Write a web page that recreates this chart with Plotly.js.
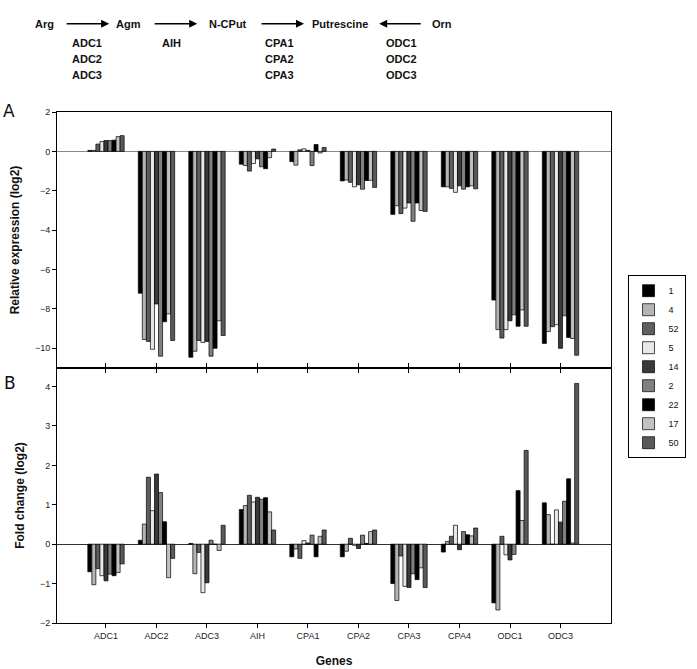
<!DOCTYPE html>
<html><head><meta charset="utf-8">
<script src="https://cdn.plot.ly/plotly-3.0.1.min.js"></script>
<style>html,body{margin:0;padding:0;background:#fff}#chart{width:697px;height:669px}</style>
</head><body><div id="chart"></div>
<script>
// Categories
const genes = ['ADC1','ADC2','ADC3','AIH','CPA1','CPA2','CPA3','CPA4','ODC1','ODC3'];
// Series (lines) in legend order
const lines = ['1','4','52','5','14','2','22','17','50'];
const colors = ['#000000','#b4b4b4','#5e5e5e','#e8e8e8','#3a3a3a','#808080','#000000','#c2c2c2','#5a5a5a'];

// Panel A: Relative expression (log2), one array per line, in gene order
const rel_1  = [0.05, -7.2, -10.45, -0.65, -0.52, -1.5, -3.2, -1.8, -7.55, -9.75];
const rel_4  = [0.05, -9.55, -10.15, -0.72, -0.7, -1.45, -2.76, -1.8, -9.05, -9.15];
const rel_52 = [0.37, -9.65, -9.6, -1.0, 0.08, -1.57, -3.16, -1.88, -9.48, -8.9];
const rel_5  = [0.5, -10.05, -9.7, -0.62, 0.13, -1.8, -2.88, -2.08, -9.05, -8.8];
const rel_14 = [0.55, -7.75, -9.65, -0.38, 0.05, -1.7, -2.62, -1.75, -8.6, -10.0];
const rel_2  = [0.55, -10.4, -10.4, -0.78, -0.72, -1.92, -3.55, -1.92, -8.3, -8.35];
const rel_22 = [0.57, -8.65, -10.0, -0.88, 0.35, -1.48, -2.62, -1.8, -8.88, -9.45];
const rel_17 = [0.75, -8.25, -8.6, -0.32, -0.08, -1.47, -3.0, -1.75, -8.05, -9.5];
const rel_50 = [0.8, -9.6, -9.35, 0.12, 0.2, -1.83, -3.05, -1.9, -8.88, -10.35];

// Panel B: Fold change (log2)
const fc_1  = [-0.7, 0.1, 0.02, 0.88, -0.32, -0.32, -1.0, -0.2, -1.49, 1.05];
const fc_4  = [-1.03, 0.51, -0.75, 0.98, -0.12, -0.18, -1.43, 0.07, -1.67, 0.75];
const fc_52 = [-0.62, 1.7, -0.21, 1.24, -0.36, 0.15, -0.3, 0.2, 0.2, 0.0];
const fc_5  = [-0.8, 0.85, -1.23, 1.07, 0.09, -0.03, -1.07, 0.48, -0.27, 0.87];
const fc_14 = [-0.93, 1.78, -0.98, 1.19, 0.03, -0.11, -1.1, -0.14, -0.4, 0.56];
const fc_2  = [-0.76, 1.31, 0.1, 1.14, 0.23, 0.23, -0.75, 0.32, -0.26, 1.09];
const fc_22 = [-0.8, 0.57, 0.0, 1.18, -0.32, 0.02, -0.9, 0.24, 1.36, 1.66];
const fc_17 = [-0.72, -0.85, -0.16, 0.82, 0.2, 0.32, -0.6, 0.21, 0.6, 0.03];
const fc_50 = [-0.5, -0.36, 0.48, 0.36, 0.36, 0.36, -1.1, 0.41, 2.38, 4.08];

const relSeries = [rel_1, rel_4, rel_52, rel_5, rel_14, rel_2, rel_22, rel_17, rel_50];
const fcSeries  = [fc_1, fc_4, fc_52, fc_5, fc_14, fc_2, fc_22, fc_17, fc_50];

// Pathway text
const pathNodes = ['Arg','Agm','N-CPut','Putrescine','Orn'];
const pathEnzymes = [['ADC1','ADC2','ADC3'],['AIH'],['CPA1','CPA2','CPA3'],['ODC1','ODC2','ODC3']];

const FONT = 'Liberation Sans, Arial, sans-serif';
const traces = [];
lines.forEach((ln, i) => {
  traces.push({
    type: 'bar', name: ln, x: genes, y: relSeries[i], xaxis: 'x2', yaxis: 'y2',
    legendgroup: ln, showlegend: true,
    marker: {color: colors[i], line: {color: '#000', width: 0.7}}, hoverinfo: 'x+y+name'
  });
  traces.push({
    type: 'bar', name: ln, x: genes, y: fcSeries[i], xaxis: 'x', yaxis: 'y',
    legendgroup: ln, showlegend: false,
    marker: {color: colors[i], line: {color: '#000', width: 0.7}}, hoverinfo: 'x+y+name'
  });
});

// pixel -> paper helpers (plot area 57.3..617.3 x, 112.3..623.3 y)
const L = 57.3, R = 617.3, T = 112.3, B = 623.3;
const px = v => (v - L) / (R - L);
const py = v => (B - v) / (B - T);

const ann = [];
const tfont = {family: FONT, size: 11, color: '#111', weight: 'bold'};
const nodeX = [44.5, 130, 230.5, 343, 446];
pathNodes.forEach((t, i) => ann.push({text: '<b>' + t + '</b>', x: px(nodeX[i]), y: py(24), xref: 'paper', yref: 'paper', showarrow: false, xanchor: 'center', yanchor: 'middle', font: tfont}));
const enzX = [87.5, 173.5, 282, 406];
const rowY = [43, 59, 75];
pathEnzymes.forEach((grp, g) => grp.forEach((t, r) => ann.push({text: '<b>' + t + '</b>', x: px(enzX[g]), y: py(rowY[r]), xref: 'paper', yref: 'paper', showarrow: false, xanchor: 'center', yanchor: 'middle', font: tfont})));
// arrows: [tail, head]
const arrows = [[66, 110], [155, 199], [263, 307], [426, 383]];
arrows.forEach(a => ann.push({text: '', x: px(a[1]), y: py(24), xref: 'paper', yref: 'paper', ax: a[0] - a[1], ay: 0, showarrow: true, arrowhead: 2, arrowsize: 1, arrowwidth: 1.6, arrowcolor: '#000', standoff: 0, startstandoff: 0}));
ann.push({text: 'A', x: px(9), y: py(111), xref: 'paper', yref: 'paper', showarrow: false, xanchor: 'center', yanchor: 'middle', font: {family: 'DejaVu Sans, sans-serif', size: 17, color: '#111'}});
ann.push({text: 'B', x: px(10), y: py(383), xref: 'paper', yref: 'paper', showarrow: false, xanchor: 'center', yanchor: 'middle', font: {family: 'DejaVu Sans, sans-serif', size: 17, color: '#111'}});

const axisCommon = {showline: true, linecolor: '#000', linewidth: 1, mirror: true, showgrid: false, ticks: 'outside', ticklen: 4, tickcolor: '#000', tickfont: {family: FONT, size: 9, color: '#222'}};

const layout = {
  width: 697, height: 669,
  margin: {l: L, r: 697 - R, t: T, b: 669 - B, pad: 0},
  paper_bgcolor: '#fff', plot_bgcolor: '#fff',
  barmode: 'group', bargap: 0.28, bargroupgap: 0,
  showlegend: true,
  legend: {x: px(634), y: py(367), xanchor: 'left', yanchor: 'middle', bordercolor: '#000', borderwidth: 1, font: {family: FONT, size: 9, color: '#111'}, tracegroupgap: 0, itemclick: false},
  xaxis: Object.assign({}, axisCommon, {anchor: 'y', domain: [0, 1], type: 'category', range: [-0.97, 10.0], mirror: 'ticks',
    title: {text: '<b>Genes</b>', font: {family: FONT, size: 12, color: '#111'}, standoff: 16}}),
  yaxis: Object.assign({}, axisCommon, {anchor: 'x', domain: [0, 0.499], range: [-2, 4.47], dtick: 1, zeroline: true, zerolinecolor: '#333', zerolinewidth: 1,
    title: {text: '<b>Fold change (log2)</b>', font: {family: FONT, size: 12, color: '#111'}, standoff: 12}}),
  xaxis2: Object.assign({}, axisCommon, {anchor: 'y2', domain: [0, 1], type: 'category', range: [-0.97, 10.0], showticklabels: false, matches: 'x'}),
  yaxis2: Object.assign({}, axisCommon, {anchor: 'x2', domain: [0.499, 1], range: [-11, 2], dtick: 2, tick0: 0, zeroline: true, zerolinecolor: '#888', zerolinewidth: 1,
    title: {text: '<b>Relative expression (log2)</b>', font: {family: FONT, size: 12, color: '#111'}, standoff: 12}}),
  annotations: ann
};

Plotly.newPlot('chart', traces, layout, {displayModeBar: false, staticPlot: true});
</script>
</body></html>
